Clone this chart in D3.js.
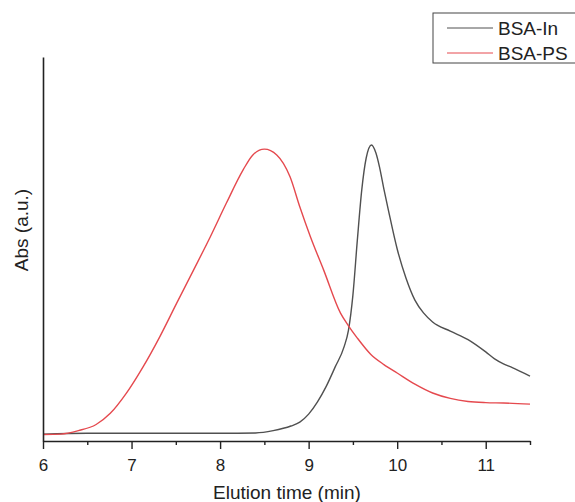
<!DOCTYPE html>
<html><head><meta charset="utf-8">
<script src="https://cdn.jsdelivr.net/npm/d3@7"></script>
<style>body{margin:0;background:#fff;} text{font-family:"Liberation Sans",Arial,sans-serif;}</style>
</head><body><svg id="c" width="575" height="502"></svg>
<script>
const seriesNames = ["BSA-In", "BSA-PS"];
const seriesColors = ["#505050", "#e5494e"];
const xTicks = [6, 7, 8, 9, 10, 11];
const xMinorTicks = [6.5, 7.5, 8.5, 9.5, 10.5, 11.5];
const xTitle = "Elution time (min)";
const yTitle = "Abs (a.u.)";

const inTime = [6.0, 6.5, 7.0, 7.5, 8.0, 8.4, 8.6, 8.8, 8.9, 9.0, 9.1, 9.2, 9.3, 9.4, 9.45, 9.5, 9.55, 9.6, 9.65, 9.71, 9.76, 9.8, 9.85, 9.9, 10.0, 10.1, 10.2, 10.3, 10.4, 10.6, 10.8, 11.0, 11.1, 11.2, 11.3, 11.5];
const inAbs  = [0.018, 0.020, 0.020, 0.020, 0.020, 0.021, 0.027, 0.039, 0.049, 0.070, 0.102, 0.143, 0.193, 0.245, 0.289, 0.380, 0.523, 0.654, 0.737, 0.771, 0.750, 0.714, 0.656, 0.602, 0.500, 0.424, 0.367, 0.333, 0.310, 0.286, 0.264, 0.232, 0.214, 0.201, 0.191, 0.169];

const psTime = [6.0, 6.2, 6.4, 6.6, 6.76, 6.94, 7.13, 7.32, 7.51, 7.70, 7.89, 8.07, 8.26, 8.37, 8.5, 8.64, 8.79, 8.9, 9.02, 9.17, 9.36, 9.45, 9.55, 9.7, 9.85, 10.0, 10.2, 10.4, 10.6, 10.8, 11.0, 11.2, 11.5];
const psAbs  = [0.017, 0.018, 0.027, 0.043, 0.072, 0.124, 0.193, 0.272, 0.359, 0.445, 0.532, 0.619, 0.706, 0.745, 0.760, 0.745, 0.688, 0.610, 0.532, 0.445, 0.333, 0.300, 0.268, 0.226, 0.199, 0.177, 0.148, 0.125, 0.111, 0.103, 0.100, 0.099, 0.096];

const svg = d3.select("#c");
const x = d3.scaleLinear().domain([6, 11.5]).range([43, 530]);
const y = d3.scaleLinear().domain([0, 1]).range([441, 57]);

// curves
const line = d3.line().x(d => x(d[0])).y(d => y(d[1])).curve(d3.curveMonotoneX);
const data = [d3.zip(inTime, inAbs), d3.zip(psTime, psAbs)];
data.forEach((d, i) => {
  svg.append("path").datum(d).attr("d", line)
    .attr("fill", "none").attr("stroke", seriesColors[i]).attr("stroke-width", 1.4);
});

// x axis
const gx = svg.append("g").attr("transform", "translate(0,441)");
gx.call(d3.axisBottom(x).tickValues(xMinorTicks).tickSize(4).tickFormat(""))
  .call(g => g.select(".domain").remove());
const gx2 = svg.append("g").attr("transform", "translate(0,441)");
gx2.call(d3.axisBottom(x).tickValues(xTicks).tickSize(8).tickPadding(10).tickSizeOuter(0).tickFormat(d3.format("d")));
svg.selectAll("g .domain").attr("stroke", "#222").attr("stroke-width", 1.6);
svg.selectAll("g .tick line").attr("stroke", "#222").attr("stroke-width", 1.4);
gx2.selectAll("text").attr("font-size", 17).attr("fill", "#222")
  .attr("font-family", "'Liberation Sans',Arial,sans-serif");

// y axis
const gy = svg.append("g").attr("transform", "translate(43,0)");
gy.call(d3.axisLeft(y).tickValues([]).tickSizeOuter(0));
gy.select(".domain").attr("stroke", "#222").attr("stroke-width", 1.6);

// titles
svg.append("text").attr("x", 287).attr("y", 499).attr("text-anchor", "middle")
  .attr("font-size", 19).attr("fill", "#222").text(xTitle);
svg.append("text").attr("transform", "translate(28,230) rotate(-90)").attr("text-anchor", "middle")
  .attr("font-size", 19).attr("fill", "#222").text(yTitle);

// legend
const lg = svg.append("g");
lg.append("rect").attr("x", 433).attr("y", 13).attr("width", 160).attr("height", 50)
  .attr("fill", "#fff").attr("stroke", "#444").attr("stroke-width", 1);
seriesNames.forEach((n, i) => {
  const yy = 28 + i * 25;
  lg.append("line").attr("x1", 447).attr("x2", 493).attr("y1", yy).attr("y2", yy)
    .attr("stroke", seriesColors[i]).attr("stroke-width", 1);
  lg.append("text").attr("x", 498).attr("y", yy + 7).attr("font-size", 19).attr("fill", "#222").text(n);
});
</script></body></html>
